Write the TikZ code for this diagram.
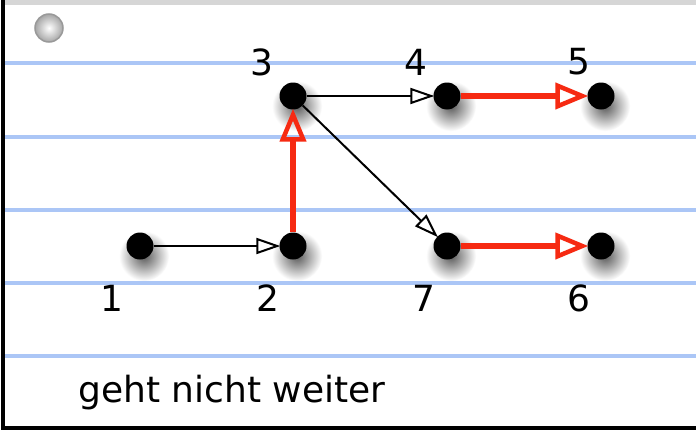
\documentclass[tikz,border=0pt]{standalone}
\usepackage{fontspec}
\setmainfont{DejaVu Sans}
\usepackage{xcolor}
\usepackage{tikz}
\usetikzlibrary{positioning, arrows.meta}
\definecolor{ruleblue}{HTML}{ABC6F6}
\definecolor{arrowred}{HTML}{F62A12}
\definecolor{bargray}{HTML}{D6D6D6}

\begin{document}
\begin{tikzpicture}[x=1pt, y=-1pt,
    dot/.style={circle, fill=black, inner sep=0pt, minimum size=27pt},
    num/.style={font=\fontsize{36}{40}\selectfont, inner sep=0pt},
    thinarrow/.style={draw=black, line width=2pt,
      -{Triangle[open, length=24pt, width=16pt, line width=2pt]}, shorten >=-1pt},
    redarrow/.style={draw=arrowred, line width=5.5pt,
      -{Triangle[open, length=33pt, width=26pt, line width=4.5pt]}, shorten >=-1pt}]
    \useasboundingbox (0,0) rectangle (696,431);
    \fill[white] (0,0) rectangle (696,431);
    % shadows
    \foreach \x/\y in {140/246, 293/246, 293/96, 447/96, 601/96, 447/246, 601/246}
      \shade[inner color=black!65, outer color=white] (\x+4,\y+10) circle (25);
    % lined paper
    \fill[bargray] (5,0) rectangle (696,5);
    \foreach \y in {63,137,210,283,356}
      \draw[ruleblue, line width=3.5pt] (5,\y) -- (696,\y);
    \draw[black, line width=3.5pt] (3,0) -- (3,428) -- (696,428);
    \shade[inner color=white, outer color=gray!70, draw=gray!80, line width=1.5pt] (49,28) circle (14);
    % dots
    \node[dot] (n1) at (140,246) {};
    \node[dot] (n2) at (293,246) {};
    \node[dot] (n3) at (293,96) {};
    \node[dot] (n4) at (447,96) {};
    \node[dot] (n5) at (601,96) {};
    \node[dot] (n7) at (447,246) {};
    \node[dot] (n6) at (601,246) {};
    % numbers
    \node[num] (l3) at (262,62) {3};
    \node[num] (l4) at (416,62) {4};
    \node[num] (l5) at (579,62) {5};
    \node[num] (l1) at (112,298) {1};
    \node[num] (l2) at (268,298) {2};
    \node[num] (l7) at (424,298) {7};
    \node[num] (l6) at (579,298) {6};
    % arrows
    \draw[thinarrow] (n1) -- (n2);
    \draw[thinarrow] (n3) -- (n4);
    \draw[thinarrow] (n3) -- (n7);
    \draw[redarrow] (n2) -- (n3);
    \draw[redarrow] (n4) -- (n5);
    \draw[redarrow] (n7) -- (n6);
    \node[font=\fontsize{36}{40}\selectfont, anchor=west, inner sep=0pt] (caption) at (78,393) {geht nicht weiter};
  \end{tikzpicture}
\end{document}
